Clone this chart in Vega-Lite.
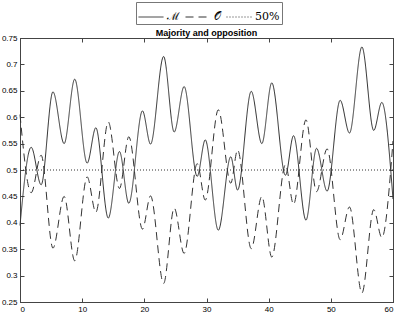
{
  "$schema": "https://vega.github.io/schema/vega-lite/v6.json",
  "autosize": {"type": "none"},
  "padding": {"left": 20, "top": 38, "right": 6, "bottom": 13},
  "width": 373,
  "height": 264,
  "background": "white",
  "title": {"text": "Majority and opposition", "font": "Liberation Sans", "fontSize": 9, "fontWeight": "bold", "color": "black", "anchor": "middle", "offset": -36},
  "config": {
    "view": {"stroke": "#444", "strokeWidth": 1},
    "axis": {"grid": false, "domainColor": "#444", "tickColor": "#444", "tickSize": -4, "labelFont": "Liberation Sans", "labelFontSize": 8, "labelColor": "black", "title": null}
  },
  "data": {"values": [
    {"x": 0, "v": 0.395, "s": "ℳ"}, {"x": 1.8, "v": 0.543, "s": "ℳ"}, {"x": 3.4, "v": 0.472, "s": "ℳ"}, {"x": 5.3, "v": 0.648, "s": "ℳ"}, {"x": 7.1, "v": 0.55, "s": "ℳ"}, {"x": 8.8, "v": 0.672, "s": "ℳ"}, {"x": 10.8, "v": 0.513, "s": "ℳ"}, {"x": 12.2, "v": 0.58, "s": "ℳ"}, {"x": 14.2, "v": 0.409, "s": "ℳ"}, {"x": 16.0, "v": 0.535, "s": "ℳ"}, {"x": 17.5, "v": 0.437, "s": "ℳ"}, {"x": 19.7, "v": 0.612, "s": "ℳ"}, {"x": 21.0, "v": 0.549, "s": "ℳ"}, {"x": 23.1, "v": 0.715, "s": "ℳ"}, {"x": 24.8, "v": 0.572, "s": "ℳ"}, {"x": 26.4, "v": 0.658, "s": "ℳ"}, {"x": 28.5, "v": 0.488, "s": "ℳ"}, {"x": 29.8, "v": 0.557, "s": "ℳ"}, {"x": 31.9, "v": 0.386, "s": "ℳ"}, {"x": 33.9, "v": 0.525, "s": "ℳ"}, {"x": 35.0, "v": 0.462, "s": "ℳ"}, {"x": 37.2, "v": 0.649, "s": "ℳ"}, {"x": 38.9, "v": 0.55, "s": "ℳ"}, {"x": 40.5, "v": 0.665, "s": "ℳ"}, {"x": 42.7, "v": 0.49, "s": "ℳ"}, {"x": 44.0, "v": 0.565, "s": "ℳ"}, {"x": 46.0, "v": 0.405, "s": "ℳ"}, {"x": 47.7, "v": 0.541, "s": "ℳ"}, {"x": 49.4, "v": 0.46, "s": "ℳ"}, {"x": 51.5, "v": 0.632, "s": "ℳ"}, {"x": 53.0, "v": 0.57, "s": "ℳ"}, {"x": 55.0, "v": 0.733, "s": "ℳ"}, {"x": 56.9, "v": 0.575, "s": "ℳ"}, {"x": 58.2, "v": 0.628, "s": "ℳ"}, {"x": 60, "v": 0.445, "s": "ℳ"},
    {"x": 0, "v": 0.605, "s": "𝒪"}, {"x": 1.8, "v": 0.457, "s": "𝒪"}, {"x": 3.4, "v": 0.528, "s": "𝒪"}, {"x": 5.3, "v": 0.352, "s": "𝒪"}, {"x": 7.1, "v": 0.45, "s": "𝒪"}, {"x": 8.8, "v": 0.328, "s": "𝒪"}, {"x": 10.8, "v": 0.487, "s": "𝒪"}, {"x": 12.2, "v": 0.42, "s": "𝒪"}, {"x": 14.2, "v": 0.591, "s": "𝒪"}, {"x": 16.0, "v": 0.465, "s": "𝒪"}, {"x": 17.5, "v": 0.563, "s": "𝒪"}, {"x": 19.7, "v": 0.388, "s": "𝒪"}, {"x": 21.0, "v": 0.451, "s": "𝒪"}, {"x": 23.1, "v": 0.285, "s": "𝒪"}, {"x": 24.8, "v": 0.428, "s": "𝒪"}, {"x": 26.4, "v": 0.342, "s": "𝒪"}, {"x": 28.5, "v": 0.512, "s": "𝒪"}, {"x": 29.8, "v": 0.443, "s": "𝒪"}, {"x": 31.9, "v": 0.614, "s": "𝒪"}, {"x": 33.9, "v": 0.475, "s": "𝒪"}, {"x": 35.0, "v": 0.538, "s": "𝒪"}, {"x": 37.2, "v": 0.351, "s": "𝒪"}, {"x": 38.9, "v": 0.45, "s": "𝒪"}, {"x": 40.5, "v": 0.335, "s": "𝒪"}, {"x": 42.7, "v": 0.51, "s": "𝒪"}, {"x": 44.0, "v": 0.435, "s": "𝒪"}, {"x": 46.0, "v": 0.595, "s": "𝒪"}, {"x": 47.7, "v": 0.459, "s": "𝒪"}, {"x": 49.4, "v": 0.54, "s": "𝒪"}, {"x": 51.5, "v": 0.368, "s": "𝒪"}, {"x": 53.0, "v": 0.43, "s": "𝒪"}, {"x": 55.0, "v": 0.267, "s": "𝒪"}, {"x": 56.9, "v": 0.425, "s": "𝒪"}, {"x": 58.2, "v": 0.372, "s": "𝒪"}, {"x": 60, "v": 0.555, "s": "𝒪"},
    {"x": 0, "v": 0.5, "s": "50%"}, {"x": 60, "v": 0.5, "s": "50%"}
  ]},
  "layer": [
    {
      "mark": {"type": "line", "interpolate": "monotone", "stroke": "#333", "strokeWidth": 1},
      "encoding": {
        "x": {"field": "x", "type": "quantitative", "scale": {"domain": [0, 60], "nice": false}, "axis": {"orient": "bottom", "values": [0, 10, 20, 30, 40, 50, 60], "labelPadding": 7}},
        "y": {"field": "v", "type": "quantitative", "scale": {"domain": [0.25, 0.75], "nice": false, "zero": false}, "axis": {"orient": "left", "values": [0.25, 0.3, 0.35, 0.4, 0.45, 0.5, 0.55, 0.6, 0.65, 0.7, 0.75], "format": "~g", "labelPadding": 7}},
        "strokeDash": {"field": "s", "type": "nominal", "scale": {"domain": ["ℳ", "𝒪", "50%"], "range": [[1, 0], [8, 5], [1, 2]]},
          "legend": {"orient": "none", "legendX": 116, "legendY": -36, "direction": "horizontal", "title": null, "symbolType": "stroke", "symbolSize": 625, "symbolStrokeColor": "#333", "symbolStrokeWidth": 1, "labelFont": "DejaVu Serif", "labelFontSize": 11, "labelColor": "black", "strokeColor": "#777", "fillColor": "white", "padding": 2, "columnPadding": 3, "labelOffset": 3}}
      }
    },
    {
      "mark": {"type": "point", "opacity": 0},
      "encoding": {
        "x": {"field": "x", "type": "quantitative", "axis": {"orient": "top", "values": [0, 10, 20, 30, 40, 50, 60], "labels": false}},
        "y": {"field": "v", "type": "quantitative", "axis": {"orient": "right", "values": [0.25, 0.3, 0.35, 0.4, 0.45, 0.5, 0.55, 0.6, 0.65, 0.7, 0.75], "labels": false}}
      }
    }
  ],
  "resolve": {"axis": {"x": "independent", "y": "independent"}}
}
